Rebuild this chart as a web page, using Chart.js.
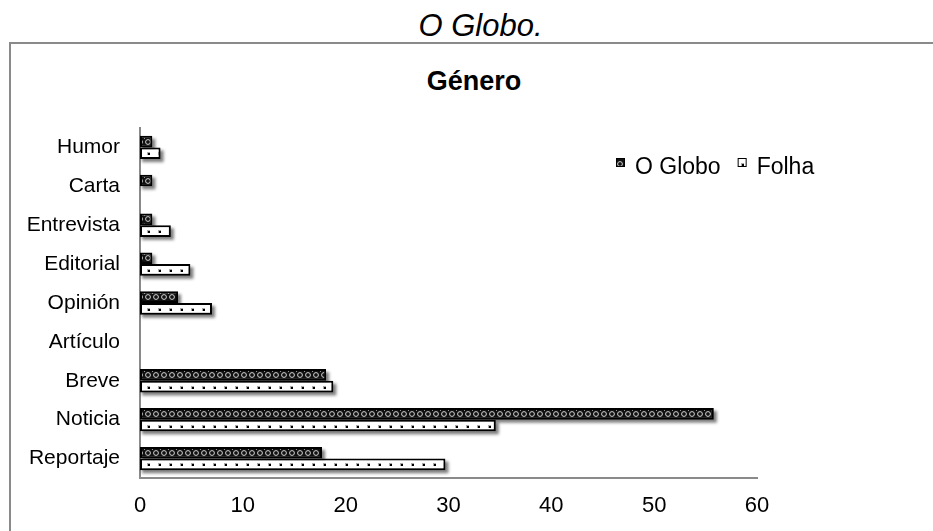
<!DOCTYPE html>
<html>
<head>
<meta charset="utf-8">
<script src="https://cdn.jsdelivr.net/npm/chart.js@4"></script>
<style>
  body { margin: 0; background: #fff; width: 933px; height: 531px; overflow: hidden; position: relative;
         font-family: "Liberation Sans", Arial, sans-serif; }
  #cap { position: absolute; left: 0; top: 11px; width: 961px; text-align: center;
         font-style: italic; font-size: 31px; line-height: 30px; color: #000; }
  #titulo { position: absolute; left: 0; top: 68px; width: 948px; text-align: center;
            font-weight: bold; font-size: 27px; line-height: 27px; color: #000; }
  #box { position: absolute; left: 9px; top: 42px; width: 940px; height: 600px; border: 2px solid #8a8a8a; }
  #wrap { position: absolute; left: 0; top: 0; width: 933px; height: 531px; }
</style>
</head>
<body>
<div id="cap">O Globo.</div>
<div id="box"></div>
<div id="titulo">Género</div>
<div id="wrap"><canvas id="grafico"></canvas></div>
<script>
const categorias = ["Humor", "Carta", "Entrevista", "Editorial", "Opinión", "Artículo", "Breve", "Noticia", "Reportaje"];
const oGlobo     = [1.2, 1.2, 1.2, 1.2, 3.7, 0, 18.1, 55.8, 17.7];
const folha      = [2.0, 0, 3.0, 4.9, 7.0, 0, 18.8, 34.6, 29.7];
const X_MIN = 0, X_MAX = 60, X_PASO = 10;

const FONTE = '"Liberation Sans", Arial, sans-serif';
const EIXO  = "#8a8a8a";

// azulejos dos padrões de preenchimento
function criarTile(tipo) {
  const t = document.createElement("canvas");
  const g = t.getContext("2d");
  if (tipo === "globo") {
    t.width = 8; t.height = 8;
    g.fillStyle = "#111"; g.fillRect(0, 0, 8, 8);
    g.strokeStyle = "#d4d4d4"; g.lineWidth = 1;
    g.beginPath(); g.arc(4, 4, 2.4, 0, Math.PI * 2); g.stroke();
    g.fillStyle = "#999"; g.fillRect(0, 0, 1, 1);
  } else {
    t.width = 11; t.height = 8;
    g.fillStyle = "#fff"; g.fillRect(0, 0, 11, 8);
    g.fillStyle = "#aaa"; g.fillRect(4, 3, 3, 3);
    g.fillStyle = "#000"; g.fillRect(5, 4, 2, 2);
  }
  return t;
}
const tiles = { globo: criarTile("globo"), folha: criarTile("folha") };

function padrao(tipo, lado) {
  return c => {
    const p = c.chart.ctx.createPattern(tiles[tipo], "repeat");
    const ys = c.chart.scales.y;
    if (!ys || c.dataIndex === undefined) return p;
    const banda = Math.abs(ys.getPixelForValue(1) - ys.getPixelForValue(0));
    const centro = ys.getPixelForValue(c.dataIndex) + lado * banda * 0.6 / 4;
    p.setTransform(new DOMMatrix().translate(0, Math.round(centro) - 4));
    return p;
  };
}

const sombraPlugin = {
  id: "sombra",
  beforeDatasetsDraw(chart) {
    const ctx = chart.ctx;
    ctx.save();
    ctx.fillStyle = "rgba(0,0,0,0.5)";
    ctx.filter = "blur(1.8px)";
    chart.data.datasets.forEach((ds, i) => {
      chart.getDatasetMeta(i).data.forEach(bar => {
        const w = bar.x - bar.base;
        if (w <= 0) return;
        ctx.fillRect(bar.base + 2, bar.y - bar.height / 2 + 3, w + 1, bar.height);
      });
    });
    ctx.restore();
  }
};

const legendaPlugin = {
  id: "legenda",
  afterDraw(chart) {
    const { ctx, chartArea } = chart;
    let x = chartArea.right - 141;
    const base = chartArea.top + 46;
    ctx.save();
    ctx.font = "23px " + FONTE;
    ctx.textBaseline = "alphabetic";
    chart.data.datasets.forEach(ds => {
      ctx.fillStyle = ctx.createPattern(tiles[ds.tile], "repeat");
      ctx.fillRect(x, base - 16, 9, 9);
      ctx.strokeStyle = "#000"; ctx.lineWidth = 1;
      ctx.strokeRect(x + 0.5, base - 15.5, 8, 8);
      ctx.fillStyle = "#000";
      ctx.fillText(ds.label, x + 19, base);
      x += 19 + ctx.measureText(ds.label).width + 17;
    });
    ctx.restore();
  }
};

new Chart(document.getElementById("grafico"), {
  type: "bar",
  data: {
    labels: categorias,
    datasets: [
      { label: "O Globo", tile: "globo", data: oGlobo, backgroundColor: padrao("globo", -1),
        borderColor: "#000", borderWidth: 2, borderSkipped: false,
        categoryPercentage: 0.6, barPercentage: 1 },
      { label: "Folha", tile: "folha", data: folha, backgroundColor: padrao("folha", 1),
        borderColor: "#000", borderWidth: 2, borderSkipped: false,
        categoryPercentage: 0.6, barPercentage: 1 }
    ]
  },
  options: {
    indexAxis: "y",
    responsive: true,
    maintainAspectRatio: false,
    animation: false,
    layout: { padding: { left: 0, right: 176, top: 128, bottom: 12 } },
    plugins: {
      legend: { display: false },
      title: { display: false },
      tooltip: { enabled: false }
    },
    scales: {
      x: {
        min: X_MIN, max: X_MAX,
        grid: { display: false, drawTicks: false },
        border: { display: true, color: EIXO, width: 2 },
        ticks: { stepSize: X_PASO, color: "#000", padding: 15, font: { size: 22, family: FONTE } },
        afterFit: s => { s.height = 41; }
      },
      y: {
        grid: { display: false, drawTicks: false },
        border: { display: true, color: EIXO, width: 2 },
        ticks: { color: "#000", padding: 20, font: { size: 21, family: FONTE } },
        afterFit: s => { s.width = 140; }
      }
    }
  },
  plugins: [sombraPlugin, legendaPlugin]
});
</script>
</body>
</html>
